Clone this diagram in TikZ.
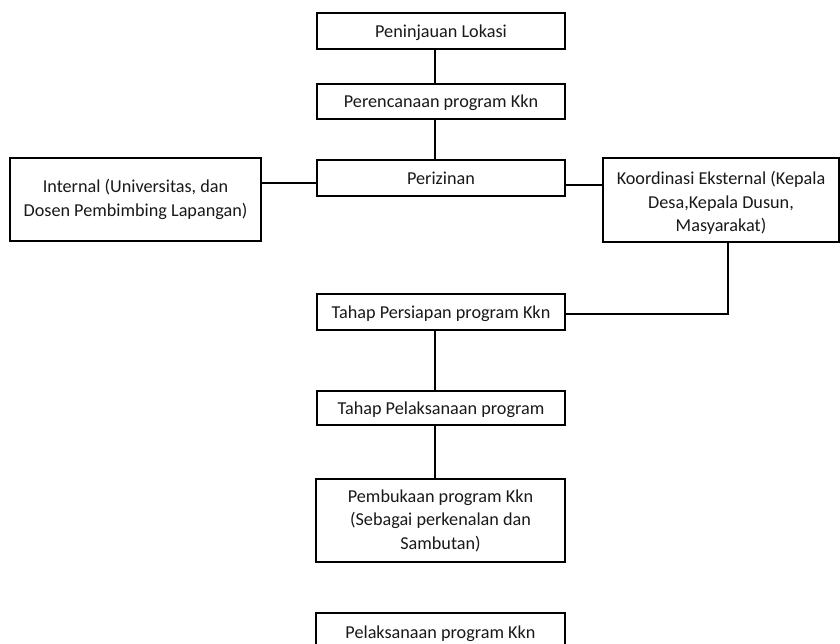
\documentclass[tikz,border=0pt]{standalone}
\usepackage{fontspec}
\setmainfont{Carlito}
\begin{document}
\begin{tikzpicture}[x=1pt,y=-1pt,
  box/.style={draw=black,line width=1.3pt,fill=white,align=center,inner sep=0pt,text=black!90},
  onebox/.style={box,text height=16pt,text depth=4pt},
  conn/.style={draw=black,line width=2pt}]
\clip (0,0) rectangle (840,643);
\fill[white] (0,0) rectangle (840,643);
\fontsize{18.2}{23.5}\selectfont
\node[onebox,minimum width=248pt,minimum height=36pt] (b1) at (441,31) {Peninjauan Lokasi};
\node[onebox,minimum width=248pt,minimum height=35pt] (b2) at (441,101.5) {Perencanaan program Kkn};
\node[onebox,minimum width=248pt,minimum height=36pt] (b3) at (441,178) {Perizinan};
\node[box,minimum width=251pt,minimum height=83pt] (int) at (135.5,199.5) {Internal (Universitas, dan\\Dosen Pembimbing Lapangan)};
\node[box,minimum width=236pt,minimum height=84pt] (kor) at (721,200) {\rule{0pt}{19.5pt}Koordinasi Eksternal (Kepala\\Desa,Kepala Dusun,\\Masyarakat)};
\node[onebox,minimum width=248pt,minimum height=36pt] (prs) at (441,312) {Tahap Persiapan program Kkn};
\node[onebox,minimum width=248pt,minimum height=34pt] (tpl) at (441,408) {Tahap Pelaksanaan program};
\node[box,minimum width=249pt,minimum height=83pt] (pmb) at (440.5,520.5) {Pembukaan program Kkn\\(Sebagai perkenalan dan\\Sambutan)};
\node[onebox,minimum width=249pt,minimum height=38pt] (pel) at (440.5,632) {Pelaksanaan program Kkn};
\draw[conn] ([xshift=-6pt]b1.south) -- ([xshift=-6pt]b2.north);
\draw[conn] ([xshift=-6pt]b2.south) -- ([xshift=-6pt]b3.north);
\draw[conn] ([yshift=-5pt]b3.west -| int.east) -- ([yshift=-5pt]b3.west);
\draw[conn] ([yshift=-7pt]b3.east) -- ([yshift=-7pt]b3.east -| kor.west);
\draw[conn] ([xshift=7pt]kor.south) |- ([yshift=-2pt]prs.east);
\draw[conn] ([xshift=-6pt]prs.south) -- ([xshift=-6pt]tpl.north);
\draw[conn] ([xshift=-6pt]tpl.south) -- ([xshift=-6pt]tpl.south |- pmb.north);
\end{tikzpicture}
\end{document}
